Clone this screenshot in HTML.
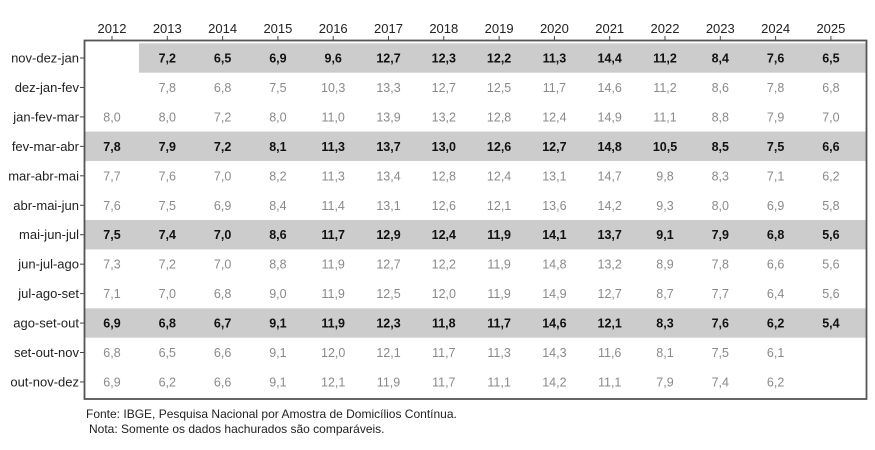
<!DOCTYPE html>
<html><head><meta charset="utf-8"><style>
html,body{margin:0;padding:0;background:#fff;}
text{font-family:"Liberation Sans",Arial,sans-serif;}
</style></head><body>
<svg width="875" height="445" viewBox="0 0 875 445" xmlns="http://www.w3.org/2000/svg">
<g fill="#cccccc">
<rect x="139" y="43.3" width="727" height="29.4"/>
<rect x="85" y="131.6" width="781" height="29.4"/>
<rect x="85" y="220" width="781" height="29.4"/>
<rect x="85" y="308.3" width="781" height="29.4"/>
</g>
<rect x="84.5" y="40.5" width="782" height="358.5" fill="none" stroke="#555" stroke-width="1.8"/>
<g stroke="#444">
<line x1="112" y1="36" x2="112" y2="40"/><line x1="167.3" y1="36" x2="167.3" y2="40"/><line x1="222.6" y1="36" x2="222.6" y2="40"/><line x1="277.9" y1="36" x2="277.9" y2="40"/><line x1="333.2" y1="36" x2="333.2" y2="40"/><line x1="388.5" y1="36" x2="388.5" y2="40"/><line x1="443.8" y1="36" x2="443.8" y2="40"/><line x1="499.1" y1="36" x2="499.1" y2="40"/><line x1="554.4" y1="36" x2="554.4" y2="40"/><line x1="609.7" y1="36" x2="609.7" y2="40"/><line x1="665" y1="36" x2="665" y2="40"/><line x1="720.3" y1="36" x2="720.3" y2="40"/><line x1="775.6" y1="36" x2="775.6" y2="40"/><line x1="830.9" y1="36" x2="830.9" y2="40"/>
<line x1="80" y1="58" x2="84" y2="58"/><line x1="80" y1="87.45" x2="84" y2="87.45"/><line x1="80" y1="116.9" x2="84" y2="116.9"/><line x1="80" y1="146.35" x2="84" y2="146.35"/><line x1="80" y1="175.8" x2="84" y2="175.8"/><line x1="80" y1="205.25" x2="84" y2="205.25"/><line x1="80" y1="234.7" x2="84" y2="234.7"/><line x1="80" y1="264.15" x2="84" y2="264.15"/><line x1="80" y1="293.6" x2="84" y2="293.6"/><line x1="80" y1="323.05" x2="84" y2="323.05"/><line x1="80" y1="352.5" x2="84" y2="352.5"/><line x1="80" y1="381.95" x2="84" y2="381.95"/>
</g>
<text y="33" font-size="13" fill="#222" text-anchor="middle"><tspan x="112">2012</tspan><tspan x="167.3">2013</tspan><tspan x="222.6">2014</tspan><tspan x="277.9">2015</tspan><tspan x="333.2">2016</tspan><tspan x="388.5">2017</tspan><tspan x="443.8">2018</tspan><tspan x="499.1">2019</tspan><tspan x="554.4">2020</tspan><tspan x="609.7">2021</tspan><tspan x="665">2022</tspan><tspan x="720.3">2023</tspan><tspan x="775.6">2024</tspan><tspan x="830.9">2025</tspan></text>
<g font-size="13" fill="#222" text-anchor="end">
<text x="79" y="62.5">nov-dez-jan</text><text x="79" y="91.95">dez-jan-fev</text><text x="79" y="121.4">jan-fev-mar</text><text x="79" y="150.85">fev-mar-abr</text><text x="79" y="180.3">mar-abr-mai</text><text x="79" y="209.75">abr-mai-jun</text><text x="79" y="239.2">mai-jun-jul</text><text x="79" y="268.65">jun-jul-ago</text><text x="79" y="298.1">jul-ago-set</text><text x="79" y="327.55">ago-set-out</text><text x="79" y="357">set-out-nov</text><text x="79" y="386.45">out-nov-dez</text>
</g>
<g font-size="12.5" text-anchor="middle">
<text y="62.5" fill="#111" font-weight="bold"><tspan x="167.3">7,2</tspan><tspan x="222.6">6,5</tspan><tspan x="277.9">6,9</tspan><tspan x="333.2">9,6</tspan><tspan x="388.5">12,7</tspan><tspan x="443.8">12,3</tspan><tspan x="499.1">12,2</tspan><tspan x="554.4">11,3</tspan><tspan x="609.7">14,4</tspan><tspan x="665">11,2</tspan><tspan x="720.3">8,4</tspan><tspan x="775.6">7,6</tspan><tspan x="830.9">6,5</tspan></text>
<text y="91.95" fill="#8a8a8a"><tspan x="167.3">7,8</tspan><tspan x="222.6">6,8</tspan><tspan x="277.9">7,5</tspan><tspan x="333.2">10,3</tspan><tspan x="388.5">13,3</tspan><tspan x="443.8">12,7</tspan><tspan x="499.1">12,5</tspan><tspan x="554.4">11,7</tspan><tspan x="609.7">14,6</tspan><tspan x="665">11,2</tspan><tspan x="720.3">8,6</tspan><tspan x="775.6">7,8</tspan><tspan x="830.9">6,8</tspan></text>
<text y="121.4" fill="#8a8a8a"><tspan x="112">8,0</tspan><tspan x="167.3">8,0</tspan><tspan x="222.6">7,2</tspan><tspan x="277.9">8,0</tspan><tspan x="333.2">11,0</tspan><tspan x="388.5">13,9</tspan><tspan x="443.8">13,2</tspan><tspan x="499.1">12,8</tspan><tspan x="554.4">12,4</tspan><tspan x="609.7">14,9</tspan><tspan x="665">11,1</tspan><tspan x="720.3">8,8</tspan><tspan x="775.6">7,9</tspan><tspan x="830.9">7,0</tspan></text>
<text y="150.85" fill="#111" font-weight="bold"><tspan x="112">7,8</tspan><tspan x="167.3">7,9</tspan><tspan x="222.6">7,2</tspan><tspan x="277.9">8,1</tspan><tspan x="333.2">11,3</tspan><tspan x="388.5">13,7</tspan><tspan x="443.8">13,0</tspan><tspan x="499.1">12,6</tspan><tspan x="554.4">12,7</tspan><tspan x="609.7">14,8</tspan><tspan x="665">10,5</tspan><tspan x="720.3">8,5</tspan><tspan x="775.6">7,5</tspan><tspan x="830.9">6,6</tspan></text>
<text y="180.3" fill="#8a8a8a"><tspan x="112">7,7</tspan><tspan x="167.3">7,6</tspan><tspan x="222.6">7,0</tspan><tspan x="277.9">8,2</tspan><tspan x="333.2">11,3</tspan><tspan x="388.5">13,4</tspan><tspan x="443.8">12,8</tspan><tspan x="499.1">12,4</tspan><tspan x="554.4">13,1</tspan><tspan x="609.7">14,7</tspan><tspan x="665">9,8</tspan><tspan x="720.3">8,3</tspan><tspan x="775.6">7,1</tspan><tspan x="830.9">6,2</tspan></text>
<text y="209.75" fill="#8a8a8a"><tspan x="112">7,6</tspan><tspan x="167.3">7,5</tspan><tspan x="222.6">6,9</tspan><tspan x="277.9">8,4</tspan><tspan x="333.2">11,4</tspan><tspan x="388.5">13,1</tspan><tspan x="443.8">12,6</tspan><tspan x="499.1">12,1</tspan><tspan x="554.4">13,6</tspan><tspan x="609.7">14,2</tspan><tspan x="665">9,3</tspan><tspan x="720.3">8,0</tspan><tspan x="775.6">6,9</tspan><tspan x="830.9">5,8</tspan></text>
<text y="239.2" fill="#111" font-weight="bold"><tspan x="112">7,5</tspan><tspan x="167.3">7,4</tspan><tspan x="222.6">7,0</tspan><tspan x="277.9">8,6</tspan><tspan x="333.2">11,7</tspan><tspan x="388.5">12,9</tspan><tspan x="443.8">12,4</tspan><tspan x="499.1">11,9</tspan><tspan x="554.4">14,1</tspan><tspan x="609.7">13,7</tspan><tspan x="665">9,1</tspan><tspan x="720.3">7,9</tspan><tspan x="775.6">6,8</tspan><tspan x="830.9">5,6</tspan></text>
<text y="268.65" fill="#8a8a8a"><tspan x="112">7,3</tspan><tspan x="167.3">7,2</tspan><tspan x="222.6">7,0</tspan><tspan x="277.9">8,8</tspan><tspan x="333.2">11,9</tspan><tspan x="388.5">12,7</tspan><tspan x="443.8">12,2</tspan><tspan x="499.1">11,9</tspan><tspan x="554.4">14,8</tspan><tspan x="609.7">13,2</tspan><tspan x="665">8,9</tspan><tspan x="720.3">7,8</tspan><tspan x="775.6">6,6</tspan><tspan x="830.9">5,6</tspan></text>
<text y="298.1" fill="#8a8a8a"><tspan x="112">7,1</tspan><tspan x="167.3">7,0</tspan><tspan x="222.6">6,8</tspan><tspan x="277.9">9,0</tspan><tspan x="333.2">11,9</tspan><tspan x="388.5">12,5</tspan><tspan x="443.8">12,0</tspan><tspan x="499.1">11,9</tspan><tspan x="554.4">14,9</tspan><tspan x="609.7">12,7</tspan><tspan x="665">8,7</tspan><tspan x="720.3">7,7</tspan><tspan x="775.6">6,4</tspan><tspan x="830.9">5,6</tspan></text>
<text y="327.55" fill="#111" font-weight="bold"><tspan x="112">6,9</tspan><tspan x="167.3">6,8</tspan><tspan x="222.6">6,7</tspan><tspan x="277.9">9,1</tspan><tspan x="333.2">11,9</tspan><tspan x="388.5">12,3</tspan><tspan x="443.8">11,8</tspan><tspan x="499.1">11,7</tspan><tspan x="554.4">14,6</tspan><tspan x="609.7">12,1</tspan><tspan x="665">8,3</tspan><tspan x="720.3">7,6</tspan><tspan x="775.6">6,2</tspan><tspan x="830.9">5,4</tspan></text>
<text y="357" fill="#8a8a8a"><tspan x="112">6,8</tspan><tspan x="167.3">6,5</tspan><tspan x="222.6">6,6</tspan><tspan x="277.9">9,1</tspan><tspan x="333.2">12,0</tspan><tspan x="388.5">12,1</tspan><tspan x="443.8">11,7</tspan><tspan x="499.1">11,3</tspan><tspan x="554.4">14,3</tspan><tspan x="609.7">11,6</tspan><tspan x="665">8,1</tspan><tspan x="720.3">7,5</tspan><tspan x="775.6">6,1</tspan></text>
<text y="386.45" fill="#8a8a8a"><tspan x="112">6,9</tspan><tspan x="167.3">6,2</tspan><tspan x="222.6">6,6</tspan><tspan x="277.9">9,1</tspan><tspan x="333.2">12,1</tspan><tspan x="388.5">11,9</tspan><tspan x="443.8">11,7</tspan><tspan x="499.1">11,1</tspan><tspan x="554.4">14,2</tspan><tspan x="609.7">11,1</tspan><tspan x="665">7,9</tspan><tspan x="720.3">7,4</tspan><tspan x="775.6">6,2</tspan></text>
</g>
<text x="86" y="418" font-size="12" fill="#222">Fonte: IBGE, Pesquisa Nacional por Amostra de Domicílios Contínua.</text>
<text x="89" y="433" font-size="12" fill="#222">Nota: Somente os dados hachurados são comparáveis.</text>
</svg>
</body></html>
